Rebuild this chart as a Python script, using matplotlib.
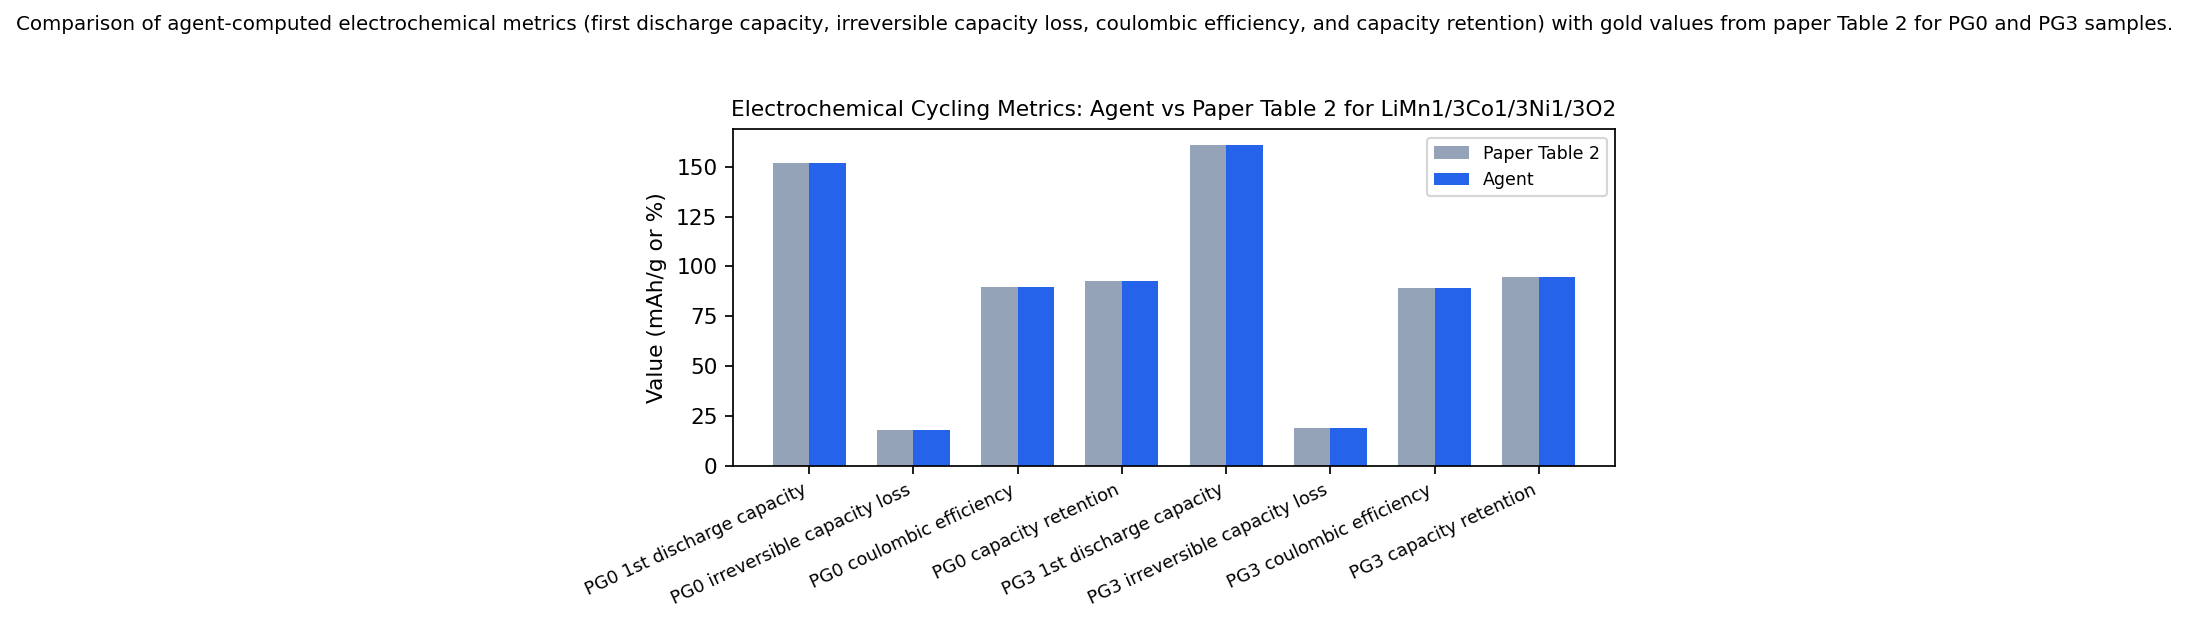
import numpy as np
import matplotlib
matplotlib.use('Agg')
from matplotlib import pyplot as plt

metrics = ['PG0 1st discharge capacity', 'PG0 irreversible capacity loss',
           'PG0 coulombic efficiency', 'PG0 capacity retention',
           'PG3 1st discharge capacity', 'PG3 irreversible capacity loss',
           'PG3 coulombic efficiency', 'PG3 capacity retention']
paper_vals = [151.8, 17.9, 89.6, 92.6, 160.9, 18.9, 89.1, 94.6]
agent_vals = [151.8, 17.9, 89.6, 92.6, 160.9, 18.9, 89.1, 94.6]

DPI = 156
fig = plt.figure(figsize=(2190 / DPI, 625 / DPI), dpi=DPI)
ax = fig.add_axes([0.3345, 0.2549, 0.4031, 0.5387])

x = np.arange(len(metrics))
w = 0.35
ax.bar(x - w/2, paper_vals, w, color='#94a3b8', label='Paper Table 2')
ax.bar(x + w/2, agent_vals, w, color='#2563eb', label='Agent')

ax.set_xticks(x)
ax.set_xticklabels(metrics, rotation=25, ha='right', fontsize=8.2)
ax.set_ylabel('Value (mAh/g or %)', fontsize=10)
ax.set_title('Electrochemical Cycling Metrics: Agent vs Paper Table 2 for LiMn1/3Co1/3Ni1/3O2', fontsize=10)
ax.legend(loc='upper right', fontsize=8)

fig.text(0.5, 0.96, 'Comparison of agent-computed electrochemical metrics (first discharge capacity, '
         'irreversible capacity loss, coulombic efficiency, and capacity retention) with gold values '
         'from paper Table 2 for PG0 and PG3 samples.', ha='center', va='center', fontsize=9.2)

fig.savefig('out.png', dpi=DPI)
